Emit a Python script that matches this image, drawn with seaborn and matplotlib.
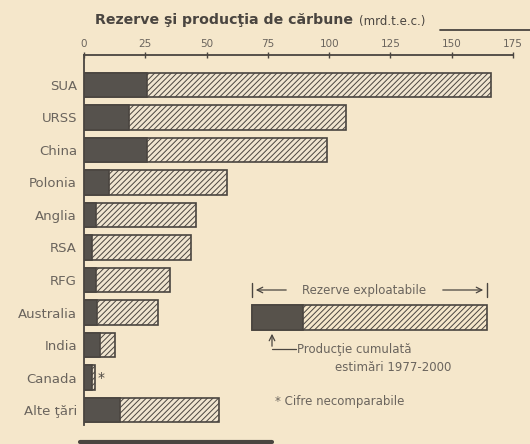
import pandas as pd
import matplotlib.pyplot as plt
import seaborn as sns
from matplotlib.patches import Rectangle
from matplotlib.lines import Line2D

# date (mrd. t.e.c.)
tari = ["SUA", "URSS", "China", "Polonia", "Anglia", "RSA", "RFG",
        "Australia", "India", "Canada", "Alte ţări"]
rezerve = [166, 107, 99, 58.5, 45.5, 43.5, 35, 30, 12.5, 4.5, 55]
productie = [25.5, 18.5, 25.5, 10, 5, 3.3, 5, 5.3, 6.5, 3.2, 14.5]
ticks_x = [0, 25, 50, 75, 100, 125, 150, 175]

df = pd.DataFrame({"Tara": tari, "Rezerve": rezerve, "Productie": productie})

bg = "#f5e7cb"
ink = "#4a4540"
dark = "#57524b"
grey = "#6a645d"

sns.set_style("white")
plt.rcParams['font.family'] = ['DejaVu Sans']
plt.rcParams['hatch.linewidth'] = 0.7
plt.rcParams['hatch.color'] = ink

fig = plt.figure(figsize=(5.3, 4.44), dpi=100, facecolor=bg)
ax = fig.add_axes([84 / 530, 1 - 425 / 444, 429 / 530, 370 / 444])
ax.set_facecolor(bg)

sns.barplot(data=df, y="Tara", x="Rezerve", ax=ax, color=bg, edgecolor=ink,
            linewidth=1.2, hatch="//////", width=0.76, orient="h")
sns.barplot(data=df, y="Tara", x="Productie", ax=ax, color=dark, edgecolor=ink,
            linewidth=1.2, width=0.76, orient="h")

ax.set_xlim(0, 175)
ax.set_ylim(10.46, -0.92)
ax.set_xticks(ticks_x)
ax.xaxis.tick_top()
ax.tick_params(axis="x", direction="inout", length=5, width=1, color=ink,
               labelsize=7.5, labelcolor=grey, pad=2)
ax.tick_params(axis="y", length=0, labelsize=9.5, labelcolor=grey, pad=5)
ax.set_xlabel("")
ax.set_ylabel("")
for s in ["right", "bottom"]:
    ax.spines[s].set_visible(False)
ax.spines["top"].set_color(ink)
ax.spines["top"].set_linewidth(1.3)
ax.spines["left"].set_color(ink)
ax.spines["left"].set_linewidth(1.3)

# asterisc Canada
ax.text(5.6, 9, "*", fontsize=10, color=ink, va="center", ha="left")

# titlu
fig.text(95 / 530, 1 - 20 / 444, "Rezerve şi producţia de cărbune",
         fontsize=10.2, fontweight="bold", color=ink, va="center")
fig.text(359 / 530, 1 - 21 / 444, "(mrd.t.e.c.)", fontsize=8.5, color=ink,
         va="center")
fig.add_artist(Line2D([440 / 530, 1], [1 - 30 / 444, 1 - 30 / 444],
                      color=ink, lw=1.3))
fig.add_artist(Line2D([80 / 530, 272 / 530], [1 - 442 / 444, 1 - 442 / 444],
                      color=ink, lw=3))

# legenda
lg = fig.add_axes([0, 0, 1, 1], facecolor="none")
lg.set_xlim(0, 530)
lg.set_ylim(444, 0)
lg.axis("off")
lg.add_patch(Rectangle((252, 305), 235, 25, facecolor=bg, edgecolor=ink,
                       hatch="//////", lw=1.2))
lg.add_patch(Rectangle((252, 305), 51, 25, facecolor=dark, edgecolor=ink,
                       lw=1.2))
lg.plot([252, 252], [283, 297], color=ink, lw=1)
lg.plot([487, 487], [283, 297], color=ink, lw=1)
lg.annotate("", xy=(253, 290), xytext=(289, 290),
            arrowprops=dict(arrowstyle="->", color=ink, lw=0.9))
lg.annotate("", xy=(486, 290), xytext=(440, 290),
            arrowprops=dict(arrowstyle="->", color=ink, lw=0.9))
lg.text(364, 290, "Rezerve exploatabile", fontsize=8.5, color=grey,
        ha="center", va="center")
lg.annotate("", xy=(272, 331), xytext=(272, 349),
            arrowprops=dict(arrowstyle="->", color=ink, lw=0.9))
lg.plot([272, 296], [349, 349], color=ink, lw=0.9)
lg.text(297, 349, "Producţie cumulată", fontsize=8.5, color=grey,
        ha="left", va="center")
lg.text(393, 367, "estimări 1977-2000", fontsize=8.5, color=grey,
        ha="center", va="center")
lg.text(275, 401, "* Cifre necomparabile", fontsize=8.5, color=grey,
        ha="left", va="center")

fig.savefig("out.png", dpi=100, facecolor=bg)
